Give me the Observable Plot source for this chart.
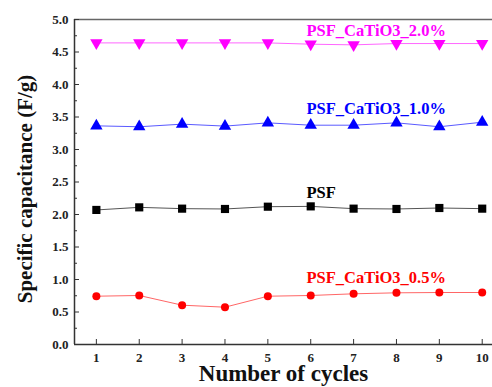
<!DOCTYPE html>
<html>
<head>
<meta charset="utf-8">
<script src="https://cdn.jsdelivr.net/npm/d3@7"></script>
<script src="https://cdn.jsdelivr.net/npm/@observablehq/plot@0.6"></script>
<style>
  html, body { margin: 0; padding: 0; background: #fff; }
  svg { font-family: "Liberation Serif", "Times New Roman", serif; }
</style>
</head>
<body>
<div id="chart"></div>
<script>
const cycles = [1, 2, 3, 4, 5, 6, 7, 8, 9, 10];
const psf      = [2.07, 2.11, 2.09, 2.085, 2.12, 2.125, 2.09, 2.085, 2.10, 2.09];
const psf05    = [0.743, 0.754, 0.605, 0.574, 0.743, 0.754, 0.78, 0.795, 0.80, 0.80];
const psf10    = [3.364, 3.35, 3.39, 3.36, 3.41, 3.374, 3.374, 3.41, 3.35, 3.42];
const psf20    = [4.64, 4.64, 4.64, 4.64, 4.64, 4.62, 4.61, 4.63, 4.63, 4.63];

const seriesNames  = ["PSF_CaTiO3_2.0%", "PSF_CaTiO3_1.0%", "PSF", "PSF_CaTiO3_0.5%"];
const seriesValues = [psf20, psf10, psf, psf05];
const seriesColors = ["#ff00ff", "#0000ff", "#000000", "#ff0000"];
const seriesLine   = ["#ff66ff", "#5a5aff", "#555555", "#ff6666"];
const seriesSymbol = ["triangle", "triangle", "square", "circle"];
const seriesRotate = [180, 0, 0, 0];
const labelX = [5.9, 5.9, 5.9, 5.9];
const labelY = [4.83, 3.63, 2.34, 1.035];

const xTicks = [1, 2, 3, 4, 5, 6, 7, 8, 9, 10];
const yTicks = [0, 0.5, 1, 1.5, 2, 2.5, 3, 3.5, 4, 4.5, 5];
const yMinor = [0.25, 0.75, 1.25, 1.75, 2.25, 2.75, 3.25, 3.75, 4.25, 4.75];
const xDomain = [0.49, 10.24];
const yDomain = [0, 5];

const rows = [];
seriesNames.forEach((name, i) => {
  cycles.forEach((c, j) => rows.push({series: name, idx: i, x: c, y: seriesValues[i][j]}));
});
const labels = seriesNames.map((name, i) => ({name, x: labelX[i], y: labelY[i], color: seriesColors[i]}));

const marks = [];
seriesNames.forEach((name, i) => {
  const d = rows.filter(r => r.idx === i);
  marks.push(Plot.line(d, {x: "x", y: "y", stroke: seriesLine[i], strokeWidth: 1}));
  marks.push(Plot.dot(d, {x: "x", y: "y", symbol: seriesSymbol[i], r: seriesSymbol[i] === "circle" ? 4 : 4.6,
    fill: seriesColors[i], stroke: "none", rotate: seriesRotate[i]}));
});

const chart = Plot.plot({
  width: 492,
  height: 387,
  marginLeft: 74,
  marginTop: 19,
  marginBottom: 43,
  marginRight: 0,
  style: {fontFamily: "Liberation Serif, Times New Roman, serif", background: "#fff"},
  x: {domain: xDomain},
  y: {domain: yDomain},
  marks: [
    Plot.ruleY([yDomain[1]], {stroke: "#666", strokeWidth: 1.5}),
    Plot.ruleY([yDomain[0]], {stroke: "#333", strokeWidth: 1.5}),
    Plot.ruleX([xDomain[0]], {stroke: "#333", strokeWidth: 1.5}),
    Plot.axisY({ticks: yTicks, tickSize: -5, tickPadding: 11, tickFormat: d3.format(".1f"),
      fontSize: 13, fontWeight: "bold", fill: "#222", label: null, stroke: "#333"}),
    Plot.axisY({ticks: yMinor, tickSize: -3, tickFormat: null, text: null, label: null, stroke: "#333"}),
    Plot.axisX({ticks: xTicks, tickSize: -5, tickPadding: 13, fontSize: 13, fontWeight: "bold",
      fill: "#222", label: null, stroke: "#333"}),
    ...marks,
    Plot.text(labels, {x: "x", y: "y", text: "name", fill: "color", textAnchor: "start",
      fontSize: 16.5, fontWeight: "bold"}),
    Plot.text(["Specific capacitance (F/g)"], {frameAnchor: "left", textAnchor: "middle", dx: -49, dy: 7, rotate: -90,
      fontSize: 21, fontWeight: "bold", fill: "#111"}),
    Plot.text(["Number of cycles"], {frameAnchor: "bottom", textAnchor: "middle", dy: 36,
      fontSize: 23, fontWeight: "bold", fill: "#111"})
  ]
});
document.getElementById("chart").appendChild(chart);
</script>
</body>
</html>
